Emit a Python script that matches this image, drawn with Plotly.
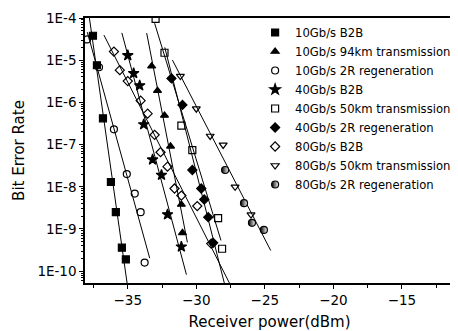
import numpy as np
import plotly.graph_objects as go

# ---- data (receiver power in dBm, bit error rate) ----
names = ["10Gb/s B2B", "10Gb/s 94km transmission", "10Gb/s 2R regeneration",
         "40Gb/s B2B", "40Gb/s 50km transmission", "40Gb/s 2R regeneration",
         "80Gb/s B2B", "80Gb/s 50km transmission", "80Gb/s 2R regeneration"]

x_10g_b2b = [-37.54, -37.25, -36.81, -36.23, -35.87, -35.43, -35.14]
y_10g_b2b = [3.8e-5, 7.6e-6, 4.2e-7, 1.3e-8, 2.5e-9, 3.6e-10, 1.9e-10]

x_10g_94km = [-33.26, -32.83, -32.32, -31.88, -31.09, -31.01]
y_10g_94km = [7.2e-6, 1.9e-6, 4.9e-7, 9.1e-8, 3.8e-9, 8.1e-10]

x_10g_2r = [-37.97, -37.10, -36.01, -35.07, -34.49, -34.06, -33.77]
y_10g_2r = [3.1e-5, 6.8e-6, 2.3e-7, 2.0e-8, 6.9e-9, 2.5e-9, 1.6e-10]

x_40g_b2b = [-35.00, -34.57, -34.13, -33.84, -33.19, -32.54, -32.10, -31.09]
y_40g_b2b = [1.3e-5, 4.9e-6, 2.5e-6, 3.0e-7, 4.4e-8, 1.9e-8, 2.2e-9, 3.8e-10]

x_40g_50km = [-32.97, -32.32, -31.09, -30.29, -28.41, -28.12]
y_40g_50km = [9.5e-5, 1.5e-5, 2.8e-7, 7.4e-8, 1.8e-9, 3.4e-10]

x_40g_2r = [-31.81, -31.01, -30.29, -29.64, -29.42, -29.13, -28.77]
y_40g_2r = [3.7e-6, 8.7e-7, 2.5e-8, 9.1e-9, 5.0e-9, 1.9e-9, 4.7e-10]

x_80g_b2b = [-36.01, -35.58, -35.00, -34.06, -33.55, -33.04, -32.61, -32.10,
             -31.59, -31.09, -29.93, -28.91]
y_80g_b2b = [1.6e-5, 5.8e-6, 3.2e-6, 1.1e-6, 5.4e-7, 1.7e-7, 6.6e-8, 3.0e-8,
             9.1e-9, 6.2e-9, 3.5e-9, 4.5e-10]

x_80g_50km = [-31.16, -30.00, -28.99, -28.04, -27.17, -26.01]
y_80g_50km = [4.2e-6, 7.1e-7, 1.6e-7, 9.8e-8, 1.0e-8, 2.2e-9]

x_80g_2r = [-27.90, -26.52, -25.94, -25.07]
y_80g_2r = [2.5e-8, 4.1e-9, 1.4e-9, 9.5e-10]

# extent (dBm) of the fitted straight line drawn for each series (None = no line)
fit_range_10g_b2b = [-37.85, -35.0]
fit_range_10g_94km = [-33.62, -30.65]
fit_range_10g_2r = [-37.95, -33.4]
fit_range_40g_b2b = [-35.43, -30.72]
fit_range_40g_50km = [-33.04, -28.2]
fit_range_40g_2r = [-32.3, -27.5]
fit_range_80g_b2b = [-36.74, -27.46]
fit_range_80g_50km = [-31.74, -24.57]
fit_range_80g_2r = None

x_ticks = [-35, -30, -25, -20, -15]
y_ticks = [1e-4, 1e-5, 1e-6, 1e-7, 1e-8, 1e-9, 1e-10]
y_tick_labels = ["1E-4", "1E-5", "1E-6", "1E-7", "1E-8", "1E-9", "1E-10"]

series = [
    (x_10g_b2b, y_10g_b2b, fit_range_10g_b2b),
    (x_10g_94km, y_10g_94km, fit_range_10g_94km),
    (x_10g_2r, y_10g_2r, fit_range_10g_2r),
    (x_40g_b2b, y_40g_b2b, fit_range_40g_b2b),
    (x_40g_50km, y_40g_50km, fit_range_40g_50km),
    (x_40g_2r, y_40g_2r, fit_range_40g_2r),
    (x_80g_b2b, y_80g_b2b, fit_range_80g_b2b),
    (x_80g_50km, y_80g_50km, fit_range_80g_50km),
    (x_80g_2r, y_80g_2r, fit_range_80g_2r),
]

symbols = ["square", "triangle-up", "circle-open", "star", "square-open",
           "diamond", "diamond-open", "triangle-down-open", "circle"]
sizes = [7, 7, 7, 8, 7, 7, 7, 7, 7]

fig = go.Figure()

# fitted lines (log-linear fits of each series)
for (xs, ys, fr) in series:
    if fr is None:
        continue
    k, b = np.polyfit(np.array(xs), np.log10(np.array(ys)), 1)
    fx = np.array(fr)
    fig.add_trace(go.Scatter(x=fx, y=10 ** (k * fx + b), mode="lines",
                             line=dict(color="black", width=1),
                             showlegend=False, hoverinfo="skip"))

for i, (xs, ys, fr) in enumerate(series):
    marker = dict(symbol=symbols[i], size=sizes[i], color="black",
                  line=dict(color="black", width=1.2))
    if i == 8:
        marker["gradient"] = dict(type="horizontal", color="white")
    fig.add_trace(go.Scatter(x=xs, y=ys, mode="markers", name=names[i],
                             marker=marker))

# the page body has an 8px default margin, so the figure is sized to fit the window
fig.update_layout(
    width=450, height=323,
    margin=dict(l=77, r=2, t=6, b=48),
    paper_bgcolor="white", plot_bgcolor="white",
    font=dict(family="DejaVu Sans", color="black", size=13),
    legend=dict(x=0.461, y=1, xanchor="left", yanchor="top",
                bgcolor="rgba(0,0,0,0)", borderwidth=0,
                font=dict(size=11.6, family="DejaVu Sans")),
)

fig.update_xaxes(
    range=[-38.12, -11.2], tickvals=x_ticks, ticks="outside", ticklen=4,
    tickwidth=1.2, tickcolor="black",
    minor=dict(ticks="outside", ticklen=3, tick0=-35, dtick=2.5, tickcolor="black"),
    showline=True, linecolor="black", linewidth=1.5, mirror=True,
    showgrid=False, zeroline=False, tickfont=dict(size=13.5),
    ticklabeloverflow="allow",
    title=dict(text="Receiver power(dBm)", font=dict(size=15), standoff=10),
)
fig.update_yaxes(
    type="log", range=[-10.28, -4], tickvals=y_ticks, ticktext=y_tick_labels,
    ticks="outside", ticklen=4, tickwidth=1.2, tickcolor="black",
    minor=dict(ticks="outside", ticklen=2, dtick="D1", tickcolor="black"),
    showline=True, linecolor="black", linewidth=1.5, mirror=True,
    showgrid=False, zeroline=False, tickfont=dict(size=13.5),
    ticklabeloverflow="allow",
    title=dict(text="Bit Error Rate", font=dict(size=15), standoff=9),
)

fig.write_html("out.html")
